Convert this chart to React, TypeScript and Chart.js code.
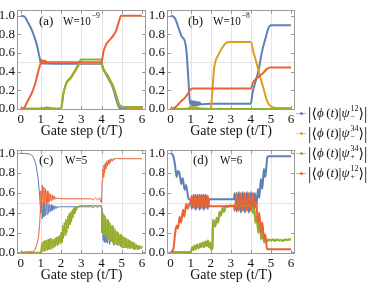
import React, { useEffect, useRef } from "react";
import { Chart, registerables } from "chart.js";
Chart.register(...registerables);

type P = [number, number][];

const BLUE = "#5E81B5";
const ORANGE = "#E19C24";
const GREEN = "#8FB032";
const RED = "#EB6235";
const SERIF = "'Liberation Serif', 'DejaVu Serif', serif";

const xTicks = [0, 1, 2, 3, 4, 5, 6];
const yTicks = [0, 0.2, 0.4, 0.6, 0.8, 1.0];
const gridX = [1, 2, 3, 4, 5];
const gridY = [0.5];
const xTitle = "Gate step (t/T)";
const panelTags = ["(a)", "(b)", "(c)", "(d)"];
const panelW = ["W=10", "W=10", "W=5", "W=6"];
const panelSup = ["−9", "−8", "", ""];
const legendSup = ["12", "34", "34", "12"];
const legendSub = ["−", "−", "+", "+"];
const legendColors = [BLUE, ORANGE, GREEN, RED];

// Panel (a) W=1e-9
const aBlue: P = [[0,1],[0.2,0.99],[0.38,0.92],[0.55,0.85],[0.7,0.76],[0.8,0.69],[0.88,0.61],[0.95,0.54],[1.0,0.49],[2.0,0.485],[3.0,0.485],[4.0,0.485],[4.05,0.45],[4.15,0.4],[4.3,0.34],[4.4,0.3],[4.5,0.26],[4.6,0.2],[4.7,0.12],[4.8,0.05],[4.88,0.01],[6,0.01]];
const aOrange: P = [[0,0.003],[2.0,0.003],[2.1,0.15],[2.25,0.27],[2.45,0.32],[2.6,0.37],[2.8,0.44],[2.95,0.49],[4.0,0.49],[4.05,0.44],[4.15,0.4],[4.3,0.35],[4.45,0.29],[4.55,0.25],[4.65,0.19],[4.75,0.12],[4.85,0.05],[4.95,0.02],[6,0.01]];
const aGreen: P = [[0,0],[1.05,0],[1.2,0.012],[1.35,0.015],[1.5,0.004],[2.0,0],[2.12,0.17],[2.28,0.29],[2.45,0.33],[2.6,0.38],[2.78,0.45],[2.94,0.52],[3.0,0.53],[4.0,0.53],[4.05,0.46],[4.15,0.41],[4.3,0.36],[4.45,0.3],[4.55,0.26],[4.65,0.2],[4.75,0.13],[4.85,0.06],[4.95,0.03],[5.1,0.02],[6,0.02]];
const aRed: P = [[0,0],[0.2,0.02],[0.38,0.1],[0.55,0.17],[0.72,0.27],[0.88,0.41],[1.0,0.5],[1.05,0.525],[1.1,0.49],[1.15,0.52],[1.2,0.492],[1.25,0.515],[1.3,0.5],[2.0,0.5],[4.0,0.5],[4.1,0.62],[4.25,0.7],[4.4,0.74],[4.55,0.78],[4.7,0.83],[4.85,0.93],[4.96,1.0],[6,1.0]];

// Panel (b) W=1e-8
const bBlue: P = [[0,1],[0.15,0.99],[0.25,0.96],[0.38,0.88],[0.55,0.78],[0.72,0.72],[0.8,0.6],[0.88,0.34],[0.95,0.1],[1.0,0.05],[1.05,0.085],[1.1,0.03],[1.15,0.085],[1.2,0.03],[1.25,0.08],[1.3,0.035],[1.35,0.075],[1.4,0.04],[1.45,0.07],[1.5,0.05],[2.0,0.055],[4.0,0.055],[4.08,0.17],[4.2,0.27],[4.38,0.41],[4.55,0.61],[4.72,0.75],[4.88,0.87],[5.0,0.9],[6,0.9]];
const bOrange: P = [[0,0],[0.9,0.005],[1.0,0.03],[1.1,0.01],[1.2,0.025],[1.3,0.01],[1.5,0.005],[2.0,0.0],[2.05,0.1],[2.1,0.25],[2.15,0.4],[2.22,0.5],[2.38,0.58],[2.55,0.65],[2.72,0.7],[2.9,0.72],[4.0,0.72],[4.13,0.61],[4.3,0.48],[4.47,0.34],[4.63,0.22],[4.8,0.09],[4.97,0.03],[5.3,0.01],[6,0.01]];
const bGreen: P = [[0,0],[6,0]];
const bRed: P = [[0,0],[0.25,0.02],[0.47,0.07],[0.72,0.12],[0.85,0.16],[0.97,0.2],[1.05,0.22],[4.0,0.22],[4.1,0.28],[4.3,0.33],[4.47,0.36],[4.63,0.39],[4.8,0.43],[4.97,0.445],[6,0.445]];

// Panel (c) W=5
const cBlue: P = [[0,1],[0.4,0.995],[0.55,0.98],[0.66,0.95],[0.77,0.87],[0.87,0.74],[0.94,0.57],[0.99,0.4],[1.03,0.5],[1.07,0.34],[1.11,0.5],[1.15,0.36],[1.19,0.5],[1.23,0.37],[1.27,0.49],[1.31,0.38],[1.35,0.49],[1.39,0.4],[1.43,0.485],[1.47,0.41],[1.51,0.48],[1.55,0.42],[1.6,0.475],[1.65,0.43],[1.7,0.47],[1.75,0.44],[1.8,0.465],[1.85,0.45],[1.9,0.46],[2.0,0.46],[3.5,0.46],[3.6,0.45],[3.7,0.47],[3.8,0.45],[3.9,0.47],[4.0,0.45],[4.02,0.2],[4.05,0.3],[4.08,0.12],[4.11,0.28],[4.14,0.1],[4.18,0.25],[4.22,0.1],[4.26,0.22],[4.3,0.09],[4.35,0.2],[4.4,0.08],[4.5,0.18],[4.6,0.07],[4.8,0.12],[5.0,0.05],[5.5,0.06],[6,0.04]];
const cGreen: P = [[0,0],[1.0,0.0],[1.04,0.09],[1.08,0.01],[1.12,0.11],[1.16,0.01],[1.2,0.12],[1.24,0.02],[1.28,0.12],[1.32,0.02],[1.36,0.13],[1.4,0.03],[1.44,0.14],[1.48,0.03],[1.52,0.14],[1.56,0.04],[1.6,0.13],[1.64,0.05],[1.68,0.14],[1.72,0.06],[1.76,0.15],[1.8,0.07],[1.84,0.16],[1.88,0.08],[1.92,0.17],[1.96,0.09],[2.0,0.2],[2.04,0.1],[2.08,0.27],[2.12,0.14],[2.16,0.3],[2.2,0.17],[2.24,0.33],[2.28,0.2],[2.32,0.36],[2.36,0.24],[2.4,0.39],[2.44,0.28],[2.48,0.41],[2.52,0.31],[2.56,0.43],[2.6,0.35],[2.64,0.45],[2.68,0.39],[2.72,0.46],[2.76,0.42],[2.8,0.465],[2.85,0.45],[2.9,0.47],[4.0,0.47],[4.03,0.2],[4.06,0.4],[4.09,0.18],[4.12,0.38],[4.16,0.17],[4.2,0.36],[4.24,0.15],[4.28,0.33],[4.32,0.13],[4.36,0.31],[4.4,0.12],[4.44,0.29],[4.48,0.11],[4.52,0.27],[4.56,0.1],[4.6,0.25],[4.64,0.09],[4.68,0.23],[4.72,0.08],[4.76,0.21],[4.8,0.07],[4.84,0.2],[4.88,0.07],[4.92,0.18],[4.96,0.06],[5.0,0.17],[5.04,0.06],[5.08,0.16],[5.12,0.05],[5.16,0.15],[5.2,0.05],[5.24,0.14],[5.28,0.04],[5.32,0.13],[5.36,0.04],[5.4,0.12],[5.44,0.04],[5.48,0.11],[5.52,0.04],[5.56,0.1],[5.6,0.03],[5.64,0.09],[5.68,0.03],[5.72,0.08],[5.76,0.03],[5.8,0.07],[5.84,0.03],[5.88,0.07],[5.92,0.04],[5.96,0.06],[6.0,0.05]];
const cOrange: P = cGreen;
const cRed: P = [[0,0],[0.6,0.005],[0.7,0.02],[0.8,0.08],[0.88,0.15],[0.94,0.28],[0.98,0.45],[1.0,0.62],[1.03,0.47],[1.07,0.68],[1.11,0.47],[1.15,0.66],[1.19,0.48],[1.23,0.64],[1.27,0.49],[1.31,0.62],[1.35,0.5],[1.39,0.6],[1.43,0.51],[1.47,0.59],[1.51,0.52],[1.55,0.58],[1.6,0.53],[1.65,0.57],[1.7,0.535],[1.75,0.555],[1.8,0.54],[1.9,0.545],[2.0,0.54],[3.5,0.54],[3.6,0.53],[3.7,0.55],[3.8,0.53],[3.9,0.55],[4.0,0.5],[4.03,0.72],[4.06,0.84],[4.09,0.76],[4.12,0.88],[4.15,0.8],[4.18,0.9],[4.21,0.84],[4.25,0.92],[4.29,0.87],[4.33,0.93],[4.37,0.89],[4.41,0.94],[4.45,0.91],[4.5,0.945],[4.55,0.92],[4.6,0.95],[4.65,0.935],[4.7,0.95],[4.8,0.945],[6,0.945]];

// Panel (d) W=6
const dBlue: P = [[0,1],[0.08,0.99],[0.15,0.96],[0.22,0.88],[0.3,0.76],[0.37,0.82],[0.45,0.79],[0.53,0.69],[0.6,0.75],[0.7,0.63],[0.77,0.68],[0.87,0.56],[0.95,0.53],[1.0,0.53],[1.05,0.44],[1.15,0.58],[1.25,0.43],[1.35,0.58],[1.45,0.43],[1.55,0.58],[1.65,0.43],[1.75,0.58],[1.85,0.44],[1.92,0.535],[3.15,0.535],[3.2,0.6],[3.3,0.41],[3.4,0.61],[3.5,0.4],[3.6,0.61],[3.7,0.4],[3.8,0.61],[3.9,0.4],[4.0,0.61],[4.1,0.41],[4.2,0.6],[4.27,0.45],[4.35,0.64],[4.42,0.55],[4.5,0.74],[4.57,0.64],[4.65,0.84],[4.72,0.76],[4.82,0.96],[4.9,0.97],[6,0.97]];
const dGreen: P = [[0,0],[1.0,0.0],[1.08,0.05],[1.13,0.02],[1.2,0.07],[1.26,0.03],[1.33,0.08],[1.4,0.04],[1.47,0.09],[1.53,0.05],[1.6,0.1],[1.66,0.05],[1.73,0.11],[1.79,0.06],[1.86,0.12],[1.92,0.05],[1.97,0.1],[2.02,0.03],[2.08,0.04],[2.12,0.33],[2.16,0.3],[2.22,0.26],[2.3,0.35],[2.36,0.3],[2.45,0.41],[2.5,0.37],[2.6,0.45],[2.66,0.41],[2.75,0.47],[2.85,0.46],[2.9,0.47],[4.05,0.47],[4.1,0.4],[4.16,0.45],[4.23,0.3],[4.3,0.36],[4.37,0.2],[4.44,0.3],[4.52,0.13],[4.58,0.27],[4.66,0.1],[4.72,0.14],[4.8,0.11],[4.9,0.13],[5.0,0.12],[5.1,0.13],[5.2,0.115],[5.3,0.13],[5.4,0.12],[5.5,0.125],[5.6,0.115],[5.7,0.13],[5.8,0.125],[5.9,0.13],[6,0.13]];
const dOrange: P = dGreen;
const dRed: P = [[0,0],[0.1,0.01],[0.17,0.08],[0.23,0.2],[0.3,0.27],[0.37,0.24],[0.45,0.36],[0.52,0.3],[0.62,0.43],[0.68,0.36],[0.78,0.49],[0.85,0.44],[0.95,0.5],[1.0,0.5],[1.05,0.57],[1.15,0.45],[1.25,0.58],[1.35,0.45],[1.45,0.58],[1.55,0.45],[1.65,0.58],[1.75,0.45],[1.85,0.57],[1.92,0.465],[3.15,0.465],[3.2,0.42],[3.3,0.6],[3.4,0.42],[3.5,0.6],[3.6,0.42],[3.7,0.6],[3.8,0.42],[3.9,0.6],[4.0,0.42],[4.1,0.6],[4.2,0.45],[4.27,0.5],[4.35,0.3],[4.42,0.4],[4.5,0.2],[4.57,0.3],[4.65,0.12],[4.72,0.18],[4.8,0.04],[4.85,0.03],[6,0.03]];

type PanelCfg = {
  idx: number;
  left: number; top: number; width: number; height: number;
  padTop: number; padRight: number; padBottom: number;
  yAxisW: number; xAxisH: number;
  yMin: number; yMax: number;
  tagX: number; wX: number; labelY: number;
  lineW: number; smooth: boolean;
  series: P[];
};

const framePlugin = {
  id: "frameTicks",
  beforeDatasetsDraw(chart: any) {
    const { ctx, chartArea, scales } = chart;
    const { left, right, top, bottom } = chartArea;
    ctx.save();
    ctx.strokeStyle = "#e4e4e4";
    ctx.lineWidth = 1;
    ctx.beginPath();
    for (const v of gridX) {
      const px = Math.round(scales.x.getPixelForValue(v)) + 0.5;
      ctx.moveTo(px, top); ctx.lineTo(px, bottom);
    }
    for (const v of gridY) {
      const py = Math.round(scales.y.getPixelForValue(v)) + 0.5;
      ctx.moveTo(left, py); ctx.lineTo(right, py);
    }
    ctx.stroke();
    ctx.restore();
  },
  afterDatasetsDraw(chart: any, _a: any, opts: any) {
    const { ctx, chartArea, scales } = chart;
    const { left, right, top, bottom } = chartArea;
    ctx.save();
    ctx.strokeStyle = "#9a9a9a";
    ctx.lineWidth = 1;
    ctx.strokeRect(Math.round(left) + 0.5, Math.round(top) + 0.5, Math.round(right - left) - 1, Math.round(bottom - top) - 1);
    ctx.beginPath();
    for (const v of xTicks) {
      const px = Math.round(scales.x.getPixelForValue(v)) + 0.5;
      ctx.moveTo(px, bottom); ctx.lineTo(px, bottom - 4);
      ctx.moveTo(px, top); ctx.lineTo(px, top + 4);
    }
    for (const v of yTicks) {
      const py = Math.round(scales.y.getPixelForValue(v)) + 0.5;
      ctx.moveTo(left, py); ctx.lineTo(left + 4, py);
      ctx.moveTo(right, py); ctx.lineTo(right - 4, py);
    }
    ctx.stroke();
    // panel label
    const i = opts.idx;
    ctx.fillStyle = "#111";
    ctx.textAlign = "left";
    ctx.textBaseline = "alphabetic";
    ctx.font = `13px ${SERIF}`;
    const by = top + opts.labelY;
    ctx.fillText(panelTags[i], left + opts.tagX, by);
    ctx.save();
    ctx.translate(left + opts.wX, by);
    ctx.scale(0.85, 1);
    ctx.fillText(panelW[i], 0, 0);
    const ww = ctx.measureText(panelW[i]).width;
    if (panelSup[i]) {
      ctx.font = `9px ${SERIF}`;
      ctx.fillText(panelSup[i], ww + 1, -7);
    }
    ctx.restore();
    ctx.restore();
  },
};

function Panel(cfg: PanelCfg) {
  const ref = useRef<HTMLCanvasElement>(null);
  useEffect(() => {
    if (!ref.current) return;
    const colors = [BLUE, ORANGE, GREEN, RED];
    const orders = [4, 3, 2, 1];
    const chart = new Chart(ref.current, {
      type: "line",
      data: {
        datasets: cfg.series.map((s, k) => ({
          data: s.map(([x, y]) => ({ x, y })),
          borderColor: colors[k],
          backgroundColor: colors[k],
          borderWidth: cfg.lineW,
          pointRadius: 0,
          fill: false,
          order: orders[k],
          cubicInterpolationMode: cfg.smooth ? "monotone" : "default",
          tension: 0,
        })),
      },
      options: {
        responsive: false,
        animation: false,
        devicePixelRatio: 1,
        events: [],
        layout: { padding: { top: cfg.padTop, right: cfg.padRight, bottom: cfg.padBottom, left: 0 } },
        plugins: {
          legend: { display: false },
          tooltip: { enabled: false },
          frameTicks: { idx: cfg.idx, tagX: cfg.tagX, wX: cfg.wX, labelY: cfg.labelY },
        } as any,
        scales: {
          x: {
            type: "linear",
            min: -0.18,
            max: 6.2,
            grid: { display: false, drawTicks: false },
            border: { display: false },
            afterBuildTicks: (s: any) => { s.ticks = xTicks.map((v) => ({ value: v })); },
            afterFit: (s: any) => { s.height = cfg.xAxisH; },
            ticks: {
              padding: 2,
              autoSkip: false,
              maxRotation: 0,
              color: "#111",
              font: { family: SERIF, size: 13 },
              callback: (v: any) => String(v),
            },
            title: {
              display: true,
              text: xTitle,
              color: "#111",
              font: { family: SERIF, size: 14 },
              padding: 0,
            },
          },
          y: {
            type: "linear",
            min: cfg.yMin,
            max: cfg.yMax,
            grid: { display: false, drawTicks: false },
            border: { display: false },
            afterBuildTicks: (s: any) => { s.ticks = yTicks.map((v) => ({ value: v })); },
            afterFit: (s: any) => { s.width = cfg.yAxisW; },
            ticks: {
              padding: 2,
              autoSkip: false,
              color: "#111",
              font: { family: SERIF, size: 13 },
              callback: (v: any) => Number(v).toFixed(1),
            },
          },
        },
      } as any,
      plugins: [framePlugin],
    });
    return () => chart.destroy();
  }, []);
  return (
    <canvas
      ref={ref}
      width={cfg.width}
      height={cfg.height}
      style={{ position: "absolute", left: cfg.left, top: cfg.top, width: cfg.width, height: cfg.height }}
    />
  );
}

function Legend() {
  return (
    <div style={{ position: "absolute", left: 296, top: 103, fontFamily: SERIF, fontSize: 13, color: "#111" }}>
      {legendSup.map((sup, i) => (
        <div key={i} style={{ display: "flex", alignItems: "center", height: 20, whiteSpace: "nowrap" }}>
          <span style={{ position: "relative", display: "inline-block", width: 10, height: 8, marginRight: 2 }}>
            <span style={{ position: "absolute", left: 0, right: 0, top: 3.5, height: 1, background: legendColors[i], opacity: 0.6 }} />
            <span style={{ position: "absolute", left: 3.5, top: 2.5, width: 3, height: 3, borderRadius: "50%", background: legendColors[i] }} />
          </span>
          <span style={{ fontSize: 17, lineHeight: "17px" }}>|</span>
          <span style={{ fontSize: 14 }}>⟨</span>
          <i>ϕ</i>
          <span>&thinsp;(</span>
          <i>t</i>
          <span>)</span>
          <span style={{ fontSize: 15 }}>|</span>
          <i>ψ</i>
          <span style={{ display: "inline-flex", flexDirection: "column", fontSize: 8, lineHeight: "8px", marginLeft: 1 }}>
            <span>{sup}</span>
            <span>{legendSub[i]}</span>
          </span>
          <span style={{ fontSize: 14 }}>⟩</span>
          <span style={{ fontSize: 17, lineHeight: "17px" }}>|</span>
        </div>
      ))}
    </div>
  );
}

export default function App() {
  const top = { padTop: 4, padBottom: 0, xAxisH: 30, height: 140, yMin: -0.012, yMax: 1.065, labelY: 15.5 };
  const bot = { padTop: 8, padBottom: 4, xAxisH: 30, height: 148, yMin: -0.017, yMax: 1.035, labelY: 14.5 };
  return (
    <div style={{ position: "absolute", left: 0, top: 0, width: 374, height: 288, background: "#fff", overflow: "hidden" }}>
      <Panel idx={0} left={0} top={0} width={149} padRight={3} yAxisW={17} tagX={22} wX={46} lineW={2} smooth={true}
        series={[aBlue, aOrange, aGreen, aRed]} {...top} />
      <Panel idx={1} left={149} top={0} width={149} padRight={3} yAxisW={18} tagX={21} wX={46} lineW={2} smooth={true}
        series={[bBlue, bOrange, bGreen, bRed]} {...top} />
      <Panel idx={2} left={0} top={140} width={149} padRight={3} yAxisW={17} tagX={22} wX={48} lineW={1} smooth={false}
        series={[cBlue, cOrange, cGreen, cRed]} {...bot} />
      <Panel idx={3} left={149} top={140} width={149} padRight={3} yAxisW={18} tagX={26} wX={53} lineW={2} smooth={true}
        series={[dBlue, dOrange, dGreen, dRed]} {...bot} />
      <Legend />
    </div>
  );
}
